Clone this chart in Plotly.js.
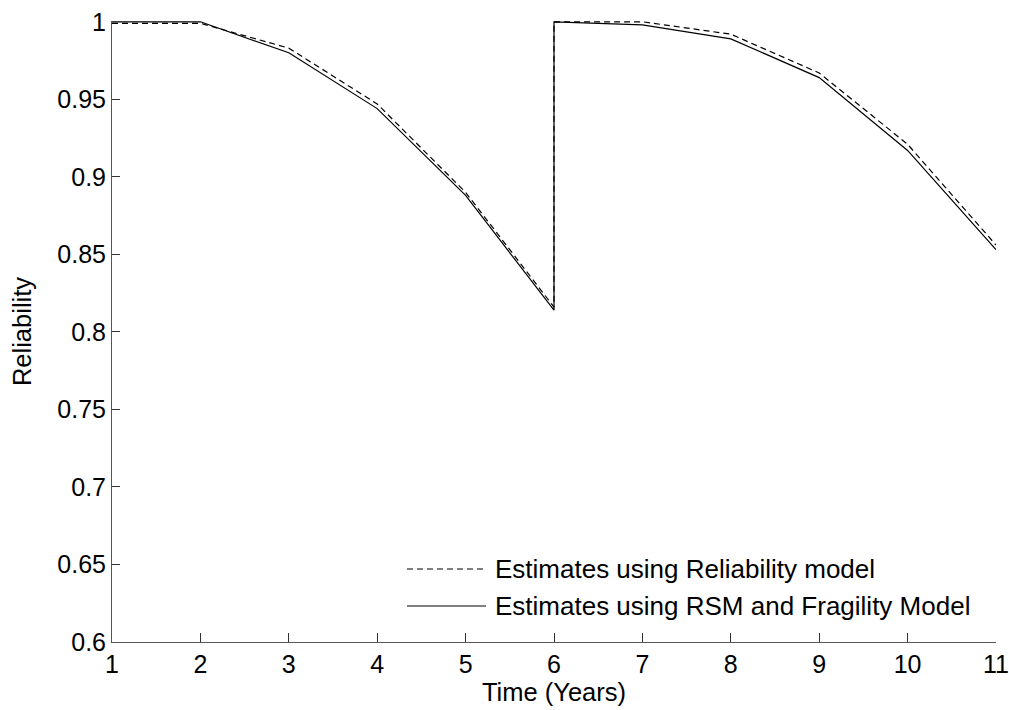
<!DOCTYPE html>
<html>
<head>
<meta charset="utf-8">
<script src="https://cdn.plot.ly/plotly-3.0.1.min.js"></script>
<style>html,body{margin:0;padding:0;background:#fff}#chart{width:1009px;height:710px}</style>
</head>
<body>
<div id="chart"></div>
<script>
// Time (years); year 6 appears twice (before and after renewal)
var timeYears = [1, 2, 3, 4, 5, 6, 6, 7, 8, 9, 10, 11];
var reliabilityModel = [0.999, 0.999, 0.983, 0.947, 0.890, 0.816, 1.000, 1.000, 0.992, 0.967, 0.921, 0.856];
var rsmFragilityModel = [1.000, 1.000, 0.980, 0.944, 0.888, 0.814, 1.000, 0.998, 0.989, 0.964, 0.917, 0.853];
var seriesNames = ["Estimates using Reliability model", "Estimates using RSM and Fragility Model"];
var xTicks = [1, 2, 3, 4, 5, 6, 7, 8, 9, 10, 11];
var yTicks = [0.6, 0.65, 0.7, 0.75, 0.8, 0.85, 0.9, 0.95, 1];
var yTickText = ["0.6", "0.65", "0.7", "0.75", "0.8", "0.85", "0.9", "0.95", "1"];

var FONT = "Liberation Sans, Arial, Helvetica, sans-serif";
var FS = 25.5;
var TFS = 25;
var LFS = 26;

var traces = [
  {x: timeYears, y: reliabilityModel, mode: "lines", name: seriesNames[0],
   line: {color: "#000", width: 1.2, dash: "6px,4px"}, showlegend: false},
  {x: timeYears, y: rsmFragilityModel, mode: "lines", name: seriesNames[1],
   line: {color: "#000", width: 1.2}, showlegend: false}
];

var plotL = 112, plotR = 996, plotT = 21, plotB = 642;
var pw = plotR - plotL, ph = plotB - plotT;
function px(x) { return (x - plotL) / pw; }
function py(y) { return (plotB - y) / ph; }

var layout = {
  width: 1009, height: 710,
  margin: {l: plotL, r: 1009 - plotR, t: plotT, b: 710 - plotB},
  paper_bgcolor: "#fff", plot_bgcolor: "#fff",
  font: {family: FONT, size: FS, color: "#000"},
  xaxis: {
    range: [1, 11], tickvals: xTicks, ticks: "inside", ticklen: 9, tickcolor: "#333",
    showline: true, linecolor: "#555", linewidth: 1, showgrid: false, zeroline: false,
    ticklabeloverflow: "allow", automargin: false,
    tickfont: {family: FONT, size: TFS, color: "#000"},
    title: {text: "Time (Years)", font: {family: FONT, size: FS}, standoff: 6}
  },
  yaxis: {
    range: [0.6, 1.0005], tickvals: yTicks, ticktext: yTickText, ticks: "inside", ticklen: 8, tickcolor: "#333",
    showline: true, linecolor: "#555", linewidth: 1, showgrid: false, zeroline: false,
    ticklabeloverflow: "allow", automargin: false,
    tickfont: {family: FONT, size: TFS, color: "#000"},
    title: {text: "Reliability", font: {family: FONT, size: FS}, standoff: 18}
  },
  showlegend: false,
  shapes: [
    {type: "line", xref: "paper", yref: "paper", x0: px(407), x1: px(486), y0: py(569), y1: py(569),
     line: {color: "#000", width: 1.2, dash: "6px,4px"}},
    {type: "line", xref: "paper", yref: "paper", x0: px(407), x1: px(486), y0: py(606), y1: py(606),
     line: {color: "#000", width: 1.2}}
  ],
  annotations: [
    {xref: "paper", yref: "paper", x: px(493), y: py(569), xanchor: "left", yanchor: "middle",
     text: seriesNames[0], showarrow: false, font: {family: FONT, size: LFS, color: "#000"}},
    {xref: "paper", yref: "paper", x: px(493), y: py(606), xanchor: "left", yanchor: "middle",
     text: seriesNames[1], showarrow: false, font: {family: FONT, size: LFS, color: "#000"}}
  ]
};

Plotly.newPlot("chart", traces, layout, {displayModeBar: false, staticPlot: true});
</script>
</body>
</html>
